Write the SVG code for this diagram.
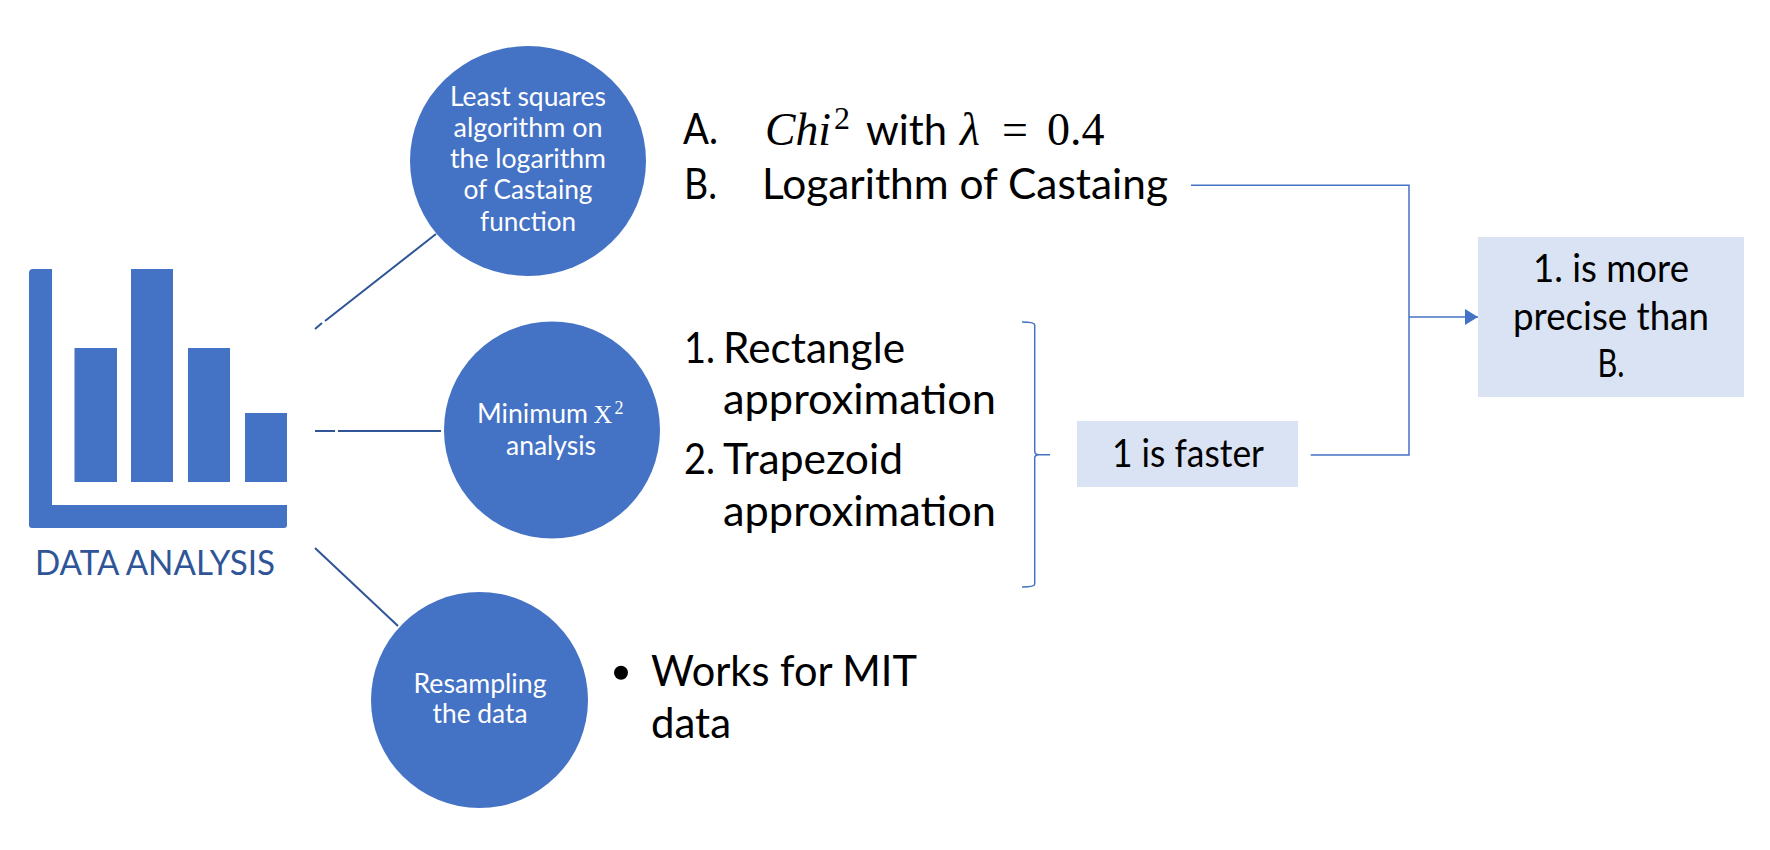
<svg xmlns="http://www.w3.org/2000/svg" width="1770" height="850" viewBox="0 0 1770 850">
<defs>
<style>
text{font-family:"Lato","Carlito","Open Sans",sans-serif;fill:#000}
.c{fill:#4472C4}
.w{fill:#fff;font-size:26px;text-anchor:middle}
.b{font-size:39px}
.l{font-size:42px}
.m{font-family:"Liberation Serif","DejaVu Serif",serif;font-size:46px}
.box{fill:#DAE3F3}
.cn{fill:none;stroke:#2F5597;stroke-width:2}
.el{fill:none;stroke:#4472C4;stroke-width:1.5}
</style>
<marker id="arr" markerUnits="userSpaceOnUse" markerWidth="14" markerHeight="16" refX="13" refY="8" orient="auto"><path d="M0 0L13 8L0 16Z" fill="#4472C4"/></marker>
</defs>
<rect width="1770" height="850" fill="#fff"/>
<g id="connectors">
<path class="cn" d="M315 329L322 323M325 321L436 234"/>
<path class="cn" d="M315 431H335M338 431H441"/>
<path class="cn" d="M315 548L398 626"/>
<path class="el" d="M1191 185.300H1409V455H1310.700"/>
<path class="el" d="M1409 317H1478" marker-end="url(#arr)"/>
<path class="el" d="M1022 322Q1034.700 322 1034.700 325V451Q1034.700 454.700 1039 454.700H1050M1039 454.700Q1034.700 454.700 1034.700 458V584Q1034.700 587 1022 587"/>
</g>
<g id="data-analysis">
<path class="c" d="M29 273Q29 269 33 269H52V505H287V525Q287 528 284 528H32Q29 528 29 525Z"/>
<rect class="c" x="74.500" y="348" width="42.500" height="134"/>
<rect class="c" x="131" y="269" width="42" height="213"/>
<rect class="c" x="188" y="348" width="42" height="134"/>
<rect class="c" x="245" y="413" width="42" height="69"/>
<text x="35" y="575" font-size="35" style="fill:#2F5597" textLength="240" lengthAdjust="spacingAndGlyphs">DATA ANALYSIS</text>
</g>
<g id="least-squares">
<ellipse class="c" cx="528" cy="161" rx="118" ry="115"/>
<text class="w" x="528" y="106" textLength="156" lengthAdjust="spacingAndGlyphs">Least squares</text>
<text class="w" x="528" y="137" textLength="149" lengthAdjust="spacingAndGlyphs">algorithm on</text>
<text class="w" x="528" y="168" textLength="156" lengthAdjust="spacingAndGlyphs">the logarithm</text>
<text class="w" x="528" y="199" textLength="129" lengthAdjust="spacingAndGlyphs">of Castaing</text>
<text class="w" x="528" y="231" textLength="96" lengthAdjust="spacingAndGlyphs">function</text>
</g>
<g id="minimum-x2">
<ellipse class="c" cx="552" cy="430" rx="108" ry="108.500"/>
<text class="w" x="532.500" y="423" textLength="111" lengthAdjust="spacingAndGlyphs">Minimum</text>
<text class="w" x="603" y="423" style="font-family:'Liberation Serif',serif">X</text>
<text class="w" x="619" y="414" style="font-size:18px;font-family:'Liberation Serif',serif">2</text>
<text class="w" x="551" y="455" textLength="90" lengthAdjust="spacingAndGlyphs">analysis</text>
</g>
<g id="resampling">
<ellipse class="c" cx="479.500" cy="700" rx="108.500" ry="108"/>
<text class="w" x="480" y="693" textLength="133" lengthAdjust="spacingAndGlyphs">Resampling</text>
<text class="w" x="480" y="723" textLength="95" lengthAdjust="spacingAndGlyphs">the data</text>
</g>
<g id="list-ab">
<text class="l" x="683" y="144" textLength="35" lengthAdjust="spacingAndGlyphs">A.</text>
<text class="m" x="765" y="145" font-style="italic" textLength="66" lengthAdjust="spacingAndGlyphs">Chi</text>
<text class="m" x="834" y="129" style="font-size:32px">2</text>
<text class="l" x="866" y="145" textLength="81" lengthAdjust="spacingAndGlyphs">with</text>
<text class="m" x="960" y="145" font-style="italic">λ</text>
<text class="m" x="1002" y="145">=</text>
<text class="m" x="1047" y="145">0.4</text>
<text class="l" x="684" y="199" textLength="33" lengthAdjust="spacingAndGlyphs">B.</text>
<text class="l" x="762" y="199" textLength="406" lengthAdjust="spacingAndGlyphs">Logarithm of Castaing</text>
</g>
<g id="list-12">
<text class="l" x="684" y="363" textLength="31" lengthAdjust="spacingAndGlyphs">1.</text>
<text class="l" x="723" y="363" textLength="182" lengthAdjust="spacingAndGlyphs">Rectangle</text>
<text class="l" x="723" y="414" textLength="273" lengthAdjust="spacingAndGlyphs">approximation</text>
<text class="l" x="684" y="474" textLength="31" lengthAdjust="spacingAndGlyphs">2.</text>
<text class="l" x="723" y="474" textLength="180" lengthAdjust="spacingAndGlyphs">Trapezoid</text>
<text class="l" x="723" y="526" textLength="273" lengthAdjust="spacingAndGlyphs">approximation</text>
</g>
<g id="works-for-mit">
<circle cx="621" cy="672.700" r="7"/>
<text class="l" x="651" y="686" textLength="266" lengthAdjust="spacingAndGlyphs">Works for MIT</text>
<text class="l" x="651" y="738" textLength="80" lengthAdjust="spacingAndGlyphs">data</text>
</g>
<g id="faster">
<rect class="box" x="1077" y="421" width="221" height="66"/>
<text class="b" x="1112" y="467" textLength="152" lengthAdjust="spacingAndGlyphs">1 is faster</text>
</g>
<g id="precise">
<rect class="box" x="1478" y="237" width="266" height="160"/>
<text class="b" x="1611" y="282" text-anchor="middle" textLength="156" lengthAdjust="spacingAndGlyphs">1. is more</text>
<text class="b" x="1611" y="330" text-anchor="middle" textLength="196" lengthAdjust="spacingAndGlyphs">precise than</text>
<text class="b" x="1611" y="377" text-anchor="middle" textLength="27" lengthAdjust="spacingAndGlyphs">B.</text>
</g>
</svg>
